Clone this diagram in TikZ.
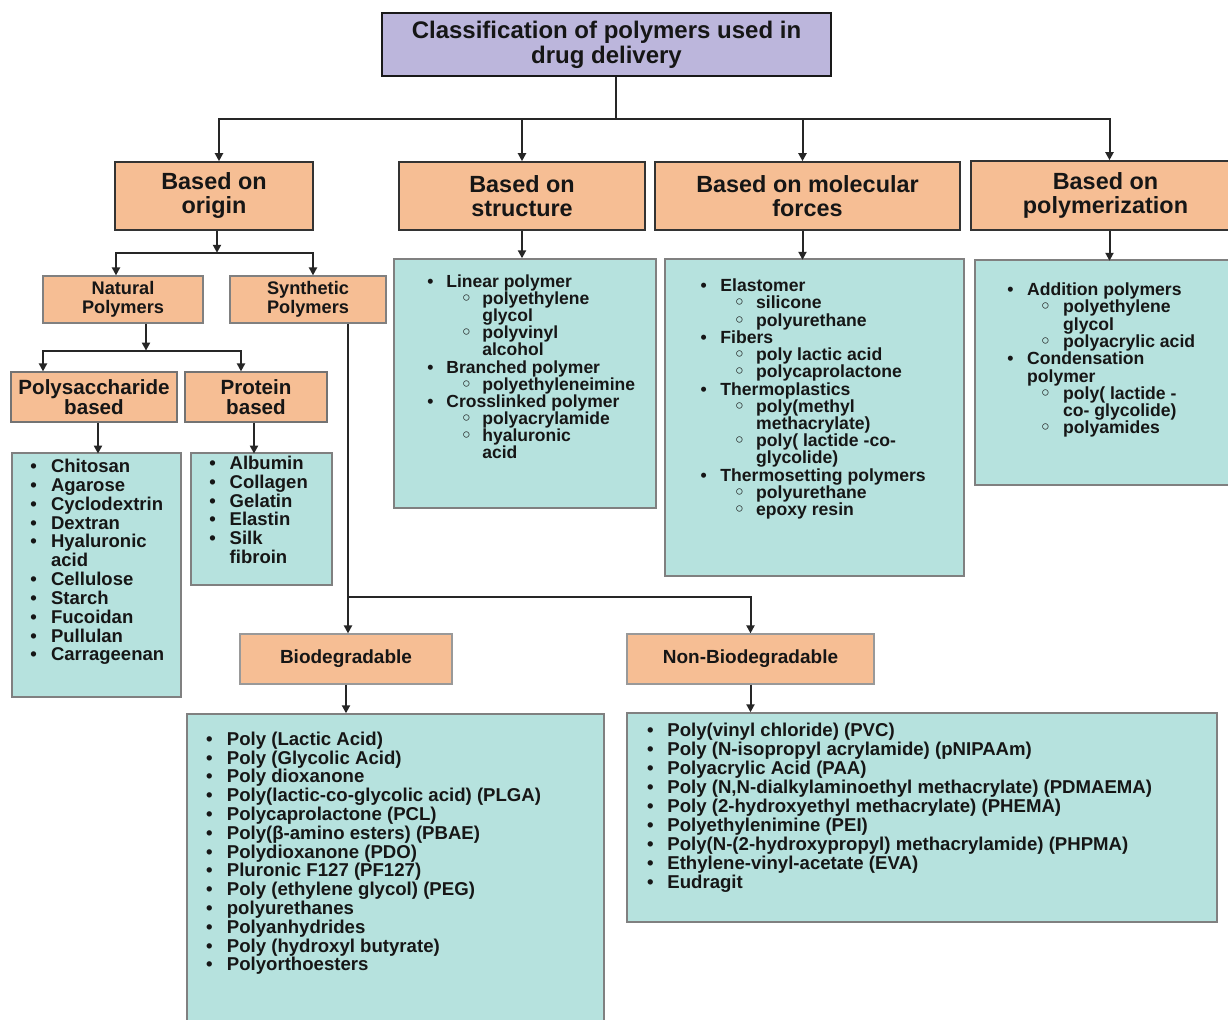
\documentclass[tikz,border=0pt]{standalone}
\usepackage{fontspec}
\setmainfont{Liberation Sans}
\newfontfamily\dv{DejaVu Sans}
\usetikzlibrary{arrows.meta,calc,fit}
\definecolor{lav}{RGB}{188,182,220}
\definecolor{peach}{RGB}{246,190,148}
\definecolor{tealbox}{RGB}{182,226,222}
\definecolor{ink}{RGB}{22,22,22}
\newlength\px \setlength\px{0.5pt}
\newlength\bwid \newlength\sind \newlength\swid
\newcommand\itB[1]{\hbox{\makebox[\bwid][c]{•}#1}}
\newcommand\itBc[1]{\hbox{\hspace*{\bwid}#1}}
\newcommand\itS[1]{\hbox{\hspace*{\bwid}\hspace*{\sind}\makebox[\swid][c]{\dv◦}#1}}
\newcommand\itSc[1]{\hbox{\hspace*{\bwid}\hspace*{\sind}\hspace*{\swid}#1}}
\begin{document}
\begin{tikzpicture}[x=0.5pt,y=-0.5pt,
  box/.style={draw, inner sep=0pt, align=center, text=ink, anchor=center},
  titlebox/.style={box, fill=lav, draw=black!90, line width=1.25pt, font=\fontsize{12}{12.5}\selectfont\bfseries},
  basedbox/.style={box, fill=peach, draw=black!80, line width=0.8pt, font=\fontsize{11.7}{12}\selectfont\bfseries},
  subbox/.style={box, fill=peach, draw=black!50, line width=0.6pt, font=\fontsize{9.1}{9.5}\selectfont\bfseries},
  kindbox/.style={box, fill=peach, draw=black!55, line width=0.6pt, font=\fontsize{10.3}{10}\selectfont\bfseries},
  degbox/.style={box, fill=peach, draw=black!40, line width=0.6pt, font=\fontsize{9.5}{10}\selectfont\bfseries},
  listbox/.style={draw=black!50, fill=tealbox, line width=0.7pt, inner sep=0pt},
  listtext/.style={anchor=base west, inner sep=0pt, text=ink},
  conn/.style={draw=black!85, line width=1pt},
  arr/.style={conn, -{Triangle[length=4pt,width=4pt]}}]
\path[fill=white] (0,0) rectangle (1228,1020);
\useasboundingbox (0,0) rectangle (1228,1020);

% ---- boxes
\node[titlebox, minimum width=224.5pt, minimum height=31.5pt] (title) at (606.5,44.5) {Classification of polymers used in\\drug delivery};
\node[basedbox, minimum width=99pt, minimum height=34pt] (origin) at (214,196) {Based on\\origin};
\node[basedbox, minimum width=123pt, minimum height=34pt] (struct) at (522,196) {Based on\\structure};
\node[basedbox, minimum width=152.5pt, minimum height=34pt] (molec) at (807.5,196) {Based on molecular\\forces};
\node[basedbox, minimum width=134.5pt, minimum height=34.5pt] (polym) at (1105.5,195.5) {Based on\\polymerization};
\node[subbox, minimum width=80pt, minimum height=23.5pt] (natural) at (123,299.5) {Natural\\Polymers};
\node[subbox, minimum width=78pt, minimum height=23.5pt] (synth) at (308,299.5) {Synthetic\\Polymers};
\node[kindbox, minimum width=83pt, minimum height=25pt] (psac) at (94,397) {Polysaccharide\\based};
\node[kindbox, minimum width=71pt, minimum height=25pt] (prot) at (256,397) {Protein\\based};
\node[degbox, minimum width=106pt, minimum height=25pt] (bio) at (346,659) {Biodegradable};
\node[degbox, minimum width=123.5pt, minimum height=25pt] (nonbio) at (750.5,659) {Non-Biodegradable};

\node[listbox, fit={(12,453) (181,697)}] (plist) {};
\node[listbox, fit={(191,453) (332,585)}] (prlist) {};
\node[listbox, fit={(394,259) (656,508)}] (slist) {};
\node[listbox, fit={(665,259) (964,576)}] (mlist) {};
\node[listbox, fit={(975,260) (1240,485)}] (pzlist) {};
\node[listbox, fit={(187,714) (604,1030)}] (blist) {};
\node[listbox, fit={(627,713) (1217,922)}] (nlist) {};

% ---- list texts
\node[listtext, font=\fontsize{8.75}{8.58}\selectfont\bfseries] (stext) at (414,287.3) {%
\setlength\bwid{32\px}\setlength\sind{4\px}\setlength\swid{32\px}%
\vtop{\itB{Linear polymer}\itS{polyethylene}\itSc{glycol}\itS{polyvinyl}\itSc{alcohol}%
\itB{Branched polymer}\itS{polyethyleneimine}\itB{Crosslinked polymer}\itS{polyacrylamide}%
\itS{hyaluronic}\itSc{acid}}};

\node[listtext, font=\fontsize{8.8}{8.62}\selectfont\bfseries] (mtext) at (686.6,291.6) {%
\setlength\bwid{33.4\px}\setlength\sind{2.3\px}\setlength\swid{33.4\px}%
\vtop{\itB{Elastomer}\itS{silicone}\itS{polyurethane}\itB{Fibers}\itS{poly lactic acid}%
\itS{polycaprolactone}\itB{Thermoplastics}\itS{poly(methyl}\itSc{methacrylate)}%
\itS{poly( lactide -co-}\itSc{glycolide)}\itB{Thermosetting polymers}\itS{polyurethane}\itS{epoxy resin}}};

\node[listtext, font=\fontsize{8.8}{8.65}\selectfont\bfseries] (pztext) at (993.3,295.6) {%
\setlength\bwid{33.4\px}\setlength\sind{0.6\px}\setlength\swid{35.4\px}%
\vtop{\itB{Addition polymers}\itS{polyethylene}\itSc{glycol}\itS{polyacrylic acid}%
\itB{Condensation}\itBc{polymer}\itS{poly( lactide -}\itSc{co- glycolide)}\itS{polyamides}}};

\node[listtext, font=\fontsize{9.25}{9.42}\selectfont\bfseries] (ptext) at (15.9,472.6) {%
\setlength\bwid{34.8\px}%
\vtop{\itB{Chitosan}\itB{Agarose}\itB{Cyclodextrin}\itB{Dextran}\itB{Hyaluronic}\itBc{acid}%
\itB{Cellulose}\itB{Starch}\itB{Fucoidan}\itB{Pullulan}\itB{Carrageenan}}};

\node[listtext, font=\fontsize{9.25}{9.33}\selectfont\bfseries] (prtext) at (195.3,470) {%
\setlength\bwid{34\px}%
\vtop{\itB{Albumin}\itB{Collagen}\itB{Gelatin}\itB{Elastin}\itB{Silk}\itBc{fibroin}}};

\node[listtext, font=\fontsize{9.3}{9.4}\selectfont\bfseries] (btext) at (191.5,745.3) {%
\setlength\bwid{35\px}%
\vtop{\itB{Poly (Lactic Acid)}\itB{Poly (Glycolic Acid)}\itB{Poly dioxanone}%
\itB{Poly(lactic-co-glycolic acid) (PLGA)}\itB{Polycaprolactone (PCL)}%
\itB{Poly(β-amino esters) (PBAE)}\itB{Polydioxanone (PDO)}\itB{Pluronic F127 (PF127)}%
\itB{Poly (ethylene glycol) (PEG)}\itB{polyurethanes}\itB{Polyanhydrides}%
\itB{Poly (hydroxyl butyrate)}\itB{Polyorthoesters}}};

\node[listtext, font=\fontsize{9.3}{9.45}\selectfont\bfseries] (ntext) at (633,737) {%
\setlength\bwid{34\px}%
\vtop{\itB{Poly(vinyl chloride) (PVC)}\itB{Poly (N-isopropyl acrylamide) (pNIPAAm)}%
\itB{Polyacrylic Acid (PAA)}\itB{Poly (N,N-dialkylaminoethyl methacrylate) (PDMAEMA)}%
\itB{Poly (2-hydroxyethyl methacrylate) (PHEMA)}\itB{Polyethylenimine (PEI)}%
\itB{Poly(N-(2-hydroxypropyl) methacrylamide) (PHPMA)}\itB{Ethylene-vinyl-acetate (EVA)}%
\itB{Eudragit}}};

% ---- connectors
\draw[conn] ($(title.south)+(9,0)$) -- ++(0,42) coordinate (j0);
\draw[arr] (j0) -| ($(origin.north)+(5,0)$);
\draw[arr] (j0) -| (struct.north);
\draw[arr] (j0) -| ($(molec.north)+(-5,0)$);
\draw[arr] (j0) -| ($(polym.north)+(4,0)$);

\draw[arr] ($(origin.south)+(3,0)$) -- ++(0,22) coordinate (j1);
\draw[arr] (j1) -| ($(natural.north)+(-7,0)$);
\draw[arr] (j1) -| ($(synth.north)+(5,0)$);

\draw[arr] ($(natural.south)+(23,0)$) -- ++(0,27) coordinate (j2);
\draw[arr] (j2) -| ($(psac.north)+(-51,0)$);
\draw[arr] (j2) -| ($(prot.north)+(-15,0)$);

\draw[arr] ($(psac.south)+(4,0)$) -- ++(0,31);
\draw[arr] ($(prot.south)+(-2,0)$) -- ++(0,31);

\draw[arr] (struct.south) -- (struct.south |- slist.north);
\draw[arr] ($(molec.south)+(-5,0)$) -- ++(0,29);
\draw[arr] ($(polym.south)+(4,0)$) -- ++(0,30);

\draw[conn] ($(synth.south)+(40,0)$) -- ++(0,273) coordinate (j3);
\draw[arr] (j3) -- (j3 |- bio.north);
\draw[arr] (j3) -| (nonbio.north);
\draw[arr] (bio.south) -- (bio.south |- blist.north);
\draw[arr] (nonbio.south) -- (nonbio.south |- nlist.north);
\end{tikzpicture}
\end{document}
